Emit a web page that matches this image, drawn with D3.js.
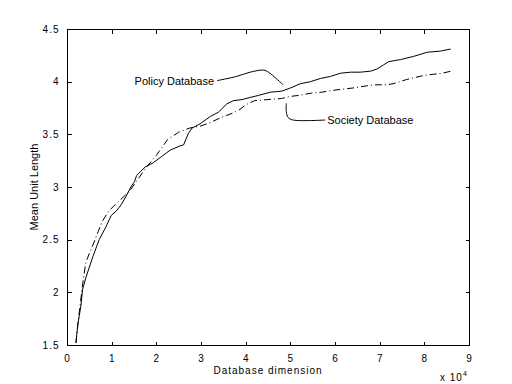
<!DOCTYPE html>
<html><head><meta charset="utf-8">
<script src="https://cdn.jsdelivr.net/npm/d3@7"></script>
<style>
html,body{margin:0;padding:0;background:#fff;}
svg{display:block;}
text{font-family:"Liberation Sans",Arial,sans-serif;fill:#000;}
</style></head>
<body>
<script>
// Data (x in units of 10^4)
const policyX = [0.2,0.24,0.31,0.35,0.43,0.58,0.72,0.87,0.99,1.10,1.21,1.32,1.43,1.51,1.56,1.75,1.93,2.12,2.31,2.53,2.61,2.72,2.80,2.98,3.21,3.39,3.58,3.73,3.92,4.10,4.29,4.55,4.81,5.0,5.22,5.45,5.67,5.90,6.12,6.35,6.57,6.8,6.94,7.09,7.20,7.47,7.76,8.07,8.36,8.59];
const policyY = [1.52,1.69,1.87,2.03,2.15,2.34,2.50,2.62,2.73,2.77,2.83,2.91,3.0,3.05,3.11,3.19,3.23,3.29,3.35,3.39,3.40,3.51,3.56,3.60,3.67,3.71,3.79,3.82,3.83,3.85,3.87,3.90,3.91,3.94,3.98,4.0,4.03,4.05,4.08,4.09,4.09,4.10,4.12,4.16,4.19,4.21,4.24,4.28,4.29,4.31];
const societyX = [0.2,0.25,0.3,0.35,0.42,0.5,0.6,0.7,0.8,0.93,1.05,1.2,1.4,1.58,1.8,2.0,2.25,2.5,2.75,3.0,3.2,3.45,3.7,3.85,4.0,4.2,4.5,4.8,5.0,5.2,5.45,5.7,6.0,6.4,6.7,6.9,7.15,7.3,7.45,7.6,7.8,8.0,8.2,8.4,8.6];
const societyY = [1.52,1.72,1.9,2.08,2.28,2.37,2.47,2.58,2.68,2.77,2.82,2.88,2.96,3.07,3.2,3.3,3.45,3.52,3.56,3.58,3.61,3.66,3.70,3.73,3.78,3.82,3.83,3.84,3.86,3.87,3.89,3.90,3.92,3.94,3.96,3.97,3.97,3.98,4.0,4.02,4.04,4.06,4.07,4.08,4.10];
const xTicks = [0,1,2,3,4,5,6,7,8,9];
const yTicks = [1.5,2,2.5,3,3.5,4,4.5];
const policyLabel = "Policy Database";
const societyLabel = "Society Database";
const policyLeaderX = [3.36,3.80,4.10,4.40,4.51,4.84];
const policyLeaderY = [4.01,4.05,4.09,4.11,4.09,3.97];
const societyLeaderX = [4.91,4.91,4.95,5.06,5.78];
const societyLeaderY = [3.795,3.715,3.66,3.636,3.636];

const W = 512, H = 384;
const m = {left:67, right:469, top:29, bottom:345};
const svg = d3.select("body").append("svg").attr("width",W).attr("height",H);
const x = d3.scaleLinear().domain([0,9]).range([m.left,m.right]);
const y = d3.scaleLinear().domain([1.5,4.5]).range([m.bottom,m.top]);

// frame
svg.append("rect").attr("x",m.left+0.5).attr("y",m.top+0.5)
  .attr("width",m.right-m.left).attr("height",m.bottom-m.top)
  .attr("fill","none").attr("stroke","#000").attr("stroke-width",1).attr("shape-rendering","crispEdges");

const tl = 4;
const fmt = d => String(d);
const gb = svg.append("g").attr("transform",`translate(0,${m.bottom+0.5})`)
  .call(d3.axisBottom(x).tickValues(xTicks).tickSize(-tl).tickPadding(9).tickFormat(fmt));
const gt = svg.append("g").attr("transform",`translate(0,${m.top+0.5})`)
  .call(d3.axisTop(x).tickValues(xTicks).tickSize(-tl).tickFormat(""));
const gl = svg.append("g").attr("transform",`translate(${m.left+0.5},0)`)
  .call(d3.axisLeft(y).tickValues(yTicks).tickSize(-tl).tickPadding(8).tickFormat(fmt));
const gr = svg.append("g").attr("transform",`translate(${m.right+0.5},0)`)
  .call(d3.axisRight(y).tickValues(yTicks).tickSize(-tl).tickFormat(""));
[gb,gt,gl,gr].forEach(g=>{
  g.select(".domain").remove();
  g.selectAll("line").attr("stroke","#000").attr("shape-rendering","crispEdges");
  g.selectAll("text").attr("font-size",10).attr("font-family","Liberation Sans, Arial, sans-serif").attr("fill","#000").style("letter-spacing","1px");
});

const line = d3.line().x(d=>x(d[0])).y(d=>y(d[1]));
const pData = policyX.map((v,i)=>[v,policyY[i]]);
const sData = societyX.map((v,i)=>[v,societyY[i]]);
svg.append("path").attr("d",line(pData)).attr("fill","none").attr("stroke","#000").attr("stroke-width",1);
svg.append("path").attr("d",line(sData)).attr("fill","none").attr("stroke","#000").attr("stroke-width",1)
  .attr("stroke-dasharray","7,3,1,3");

// annotations
const smooth = d3.line().x(d=>x(d[0])).y(d=>y(d[1])).curve(d3.curveCatmullRom);
svg.append("path").attr("d",smooth(policyLeaderX.map((v,i)=>[v,policyLeaderY[i]])))
  .attr("fill","none").attr("stroke","#000");
svg.append("path").attr("d",smooth(societyLeaderX.map((v,i)=>[v,societyLeaderY[i]])))
  .attr("fill","none").attr("stroke","#000");
svg.append("text").attr("x",x(policyLeaderX[0])-3).attr("y",y(policyLeaderY[0])+4)
  .attr("text-anchor","end").attr("font-size",11).text(policyLabel);
svg.append("text").attr("x",x(societyLeaderX[societyLeaderX.length-1])+2).attr("y",y(societyLeaderY[societyLeaderY.length-1])+4)
  .attr("text-anchor","start").attr("font-size",11).text(societyLabel);

// axis labels
svg.append("text").attr("x",(m.left+m.right)/2).attr("y",374).attr("text-anchor","middle")
  .attr("font-size",10).style("letter-spacing","1px").text("Database dimension");
svg.append("text").attr("transform","translate(38,187) rotate(-90)").attr("text-anchor","middle")
  .attr("font-size",11).text("Mean Unit Length");
const ex = svg.append("text").attr("x",440).attr("y",381).attr("font-size",10).style("letter-spacing","1px");
ex.append("tspan").text("x 10");
ex.append("tspan").attr("dy",-5).attr("font-size",7).text("4");
</script>
</body></html>
